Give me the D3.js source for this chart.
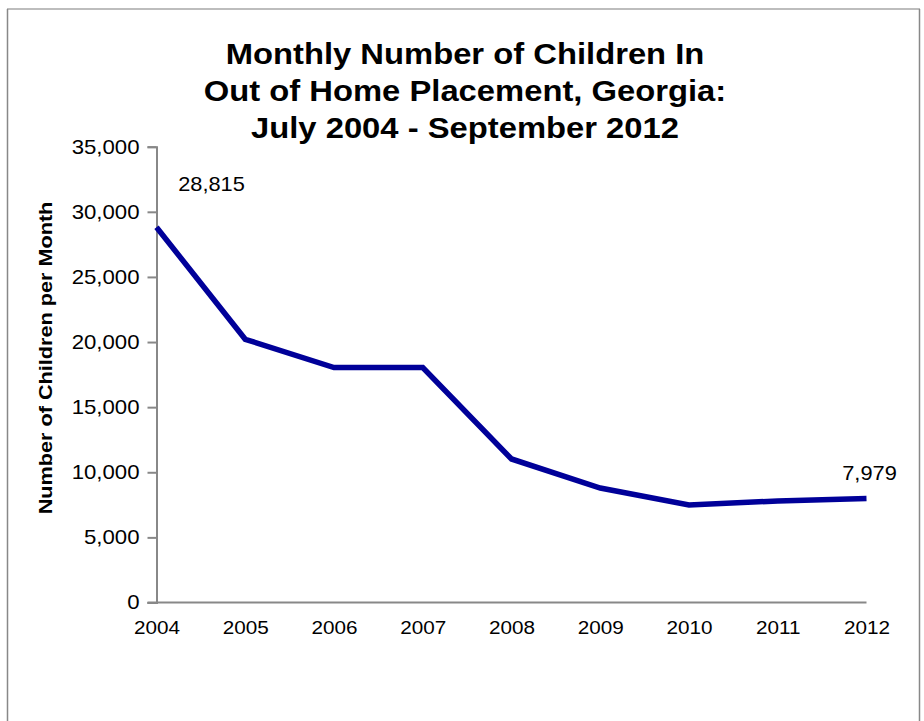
<!DOCTYPE html>
<html><head><meta charset="utf-8">
<script src="https://cdn.jsdelivr.net/npm/d3@7"></script>
<style>
html,body{margin:0;padding:0;background:#fff;}
svg{display:block;font-family:Arial,"Liberation Sans",sans-serif;}
</style></head>
<body>
<svg id="chart" width="924" height="721"></svg>
<script>
const years = ["2004","2005","2006","2007","2008","2009","2010","2011","2012"];
const children = [28815, 20210, 18040, 18040, 11020, 8790, 7490, 7800, 7979];
const yTicks = [0, 5000, 10000, 15000, 20000, 25000, 30000, 35000];
const titleLines = ["Monthly Number of Children In", "Out of Home Placement, Georgia:", "July 2004 - September 2012"];
const yTitle = "Number of Children per Month";
const labelIdx = [0, 8];

const FONT = "Arial, 'Liberation Sans', sans-serif";
const svg = d3.select("#chart");
// frame
svg.append("line").attr("x1",7).attr("x2",920).attr("y1",9).attr("y2",9).attr("stroke","#bdbdbd").attr("stroke-width",2);
svg.append("line").attr("x1",7.5).attr("x2",7.5).attr("y1",9).attr("y2",721).attr("stroke","#888").attr("stroke-width",1.5);
svg.append("line").attr("x1",919.5).attr("x2",919.5).attr("y1",9).attr("y2",721).attr("stroke","#888").attr("stroke-width",1.5);

const x = d3.scalePoint().domain(years).range([156.5, 866.5]);
const y = d3.scaleLinear().domain([0, 35000]).range([602.5, 146.7]);

// title
svg.append("g").selectAll("text").data(titleLines).join("text")
  .attr("transform", (d,i)=>`translate(465,${64 + i*37}) scale(1.13,1)`)
  .attr("text-anchor","middle").attr("font-weight","bold").attr("font-size",29)
  .attr("fill","#000").text(d=>d);

// y axis
const yAxis = d3.axisLeft(y).tickValues(yTicks).tickSize(9).tickPadding(6)
  .tickFormat(d3.format(","));
const gy = svg.append("g").attr("transform","translate(156.5,0)").call(yAxis);
gy.select(".domain").attr("stroke","#888").attr("stroke-width",2);
gy.selectAll(".tick line").attr("stroke","#888").attr("stroke-width",2);
gy.selectAll(".tick text").attr("font-size",20).attr("fill","#000").attr("font-family",FONT)
  .attr("x",0).attr("transform","translate(-17,0) scale(1.11,1)");

// x axis
const xAxis = d3.axisBottom(x).tickSize(0).tickPadding(18);
const gx = svg.append("g").attr("transform","translate(0,602.5)").call(xAxis);
gx.select(".domain").attr("stroke","#888").attr("stroke-width",2).attr("d","M147.5,0H866.5");
gx.selectAll(".tick text").attr("font-size",19).attr("fill","#000").attr("font-family",FONT)
  .attr("transform","scale(1.09,1)");

// y title
svg.append("text").attr("transform","translate(52,358) rotate(-90) scale(1.14,1)")
  .attr("text-anchor","middle").attr("font-weight","bold").attr("font-size",19)
  .attr("fill","#000").text(yTitle);

// line
const line = d3.line().x((d,i)=>x(years[i])).y(d=>y(d));
svg.append("path").datum(children).attr("d",line)
  .attr("fill","none").attr("stroke","#000099").attr("stroke-width",5.5).attr("stroke-linejoin","miter");

// data labels
const lbl = svg.append("g");
lbl.append("text").attr("transform",`translate(${x(years[labelIdx[0]]) + 55},191) scale(1.09,1)`)
  .attr("text-anchor","middle").attr("font-size",20).attr("fill","#000").text(d3.format(",")(children[labelIdx[0]]));
lbl.append("text").attr("transform",`translate(${x(years[labelIdx[1]]) + 3},480) scale(1.09,1)`)
  .attr("text-anchor","middle").attr("font-size",20).attr("fill","#000").text(d3.format(",")(children[labelIdx[1]]));
</script>
</body></html>
